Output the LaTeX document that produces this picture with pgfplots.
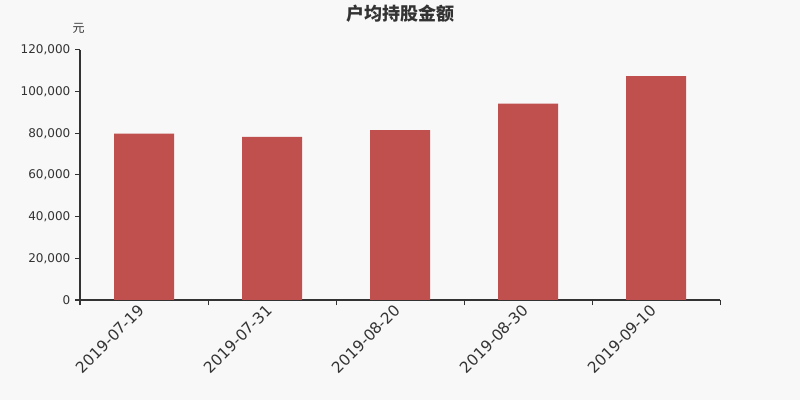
\documentclass[border=0pt]{standalone}
\usepackage{fontspec}
\setmainfont{DejaVu Sans}
\newfontfamily\cjk{Noto Sans CJK SC}
\usepackage{pgfplots}
\pgfplotsset{compat=1.18}
\definecolor{barred}{HTML}{C0504D}
\definecolor{bg}{HTML}{F8F8F8}
\definecolor{txt}{HTML}{333333}

% 1px = 0.75pt, picture 800x400 px = 600x300 pt
\begin{document}
\begin{tikzpicture}
  \useasboundingbox (0pt,0pt) rectangle (600pt,300pt);
  \fill[bg] (0pt,0pt) rectangle (600pt,300pt);
  \begin{axis}[
    at={(60pt,75pt)}, anchor=south west,
    scale only axis,
    width=480pt, height=187.5pt,
    xmin=-0.5, xmax=4.5,
    ymin=0, ymax=120000,
    axis x line*=bottom,
    axis y line*=left,
    axis line style={txt, -, line width=0.75pt},
    tick align=outside,
    major tick length=3.75pt,
    minor tick length=3.75pt,
    tick style={txt, line width=0.75pt},
    major x tick style={draw=none},
    xtick={0,...,4},
    minor xtick={-0.5,0.5,...,4.5},
    xticklabels={2019-07-19,2019-07-31,2019-08-20,2019-08-30,2019-09-10},
    xticklabel style={rotate=45, anchor=east, font=\fontsize{11.5}{13}\selectfont, text=txt, xshift=1pt},
    ytick={0,20000,40000,60000,80000,100000,120000},
    scaled y ticks=false,
    yticklabels={0,{20,000},{40,000},{60,000},{80,000},{100,000},{120,000}},
    yticklabel style={font=\fontsize{9}{11}\selectfont, text=txt},
  ]
    % 户均持股金额 (元)
    \addplot[ybar, fill=barred, draw=none, bar width=0.46875]
      coordinates {(0,79800) (1,78300) (2,81500) (3,94300) (4,107500)};
  \end{axis}
  \node[font=\cjk\bfseries\fontsize{13.5}{16}\selectfont, text=txt] at (300pt,290pt) {户均持股金额};
  \node[font=\cjk\fontsize{9}{11}\selectfont, text=txt] at (59pt,279pt) {元};
\end{tikzpicture}
\end{document}
